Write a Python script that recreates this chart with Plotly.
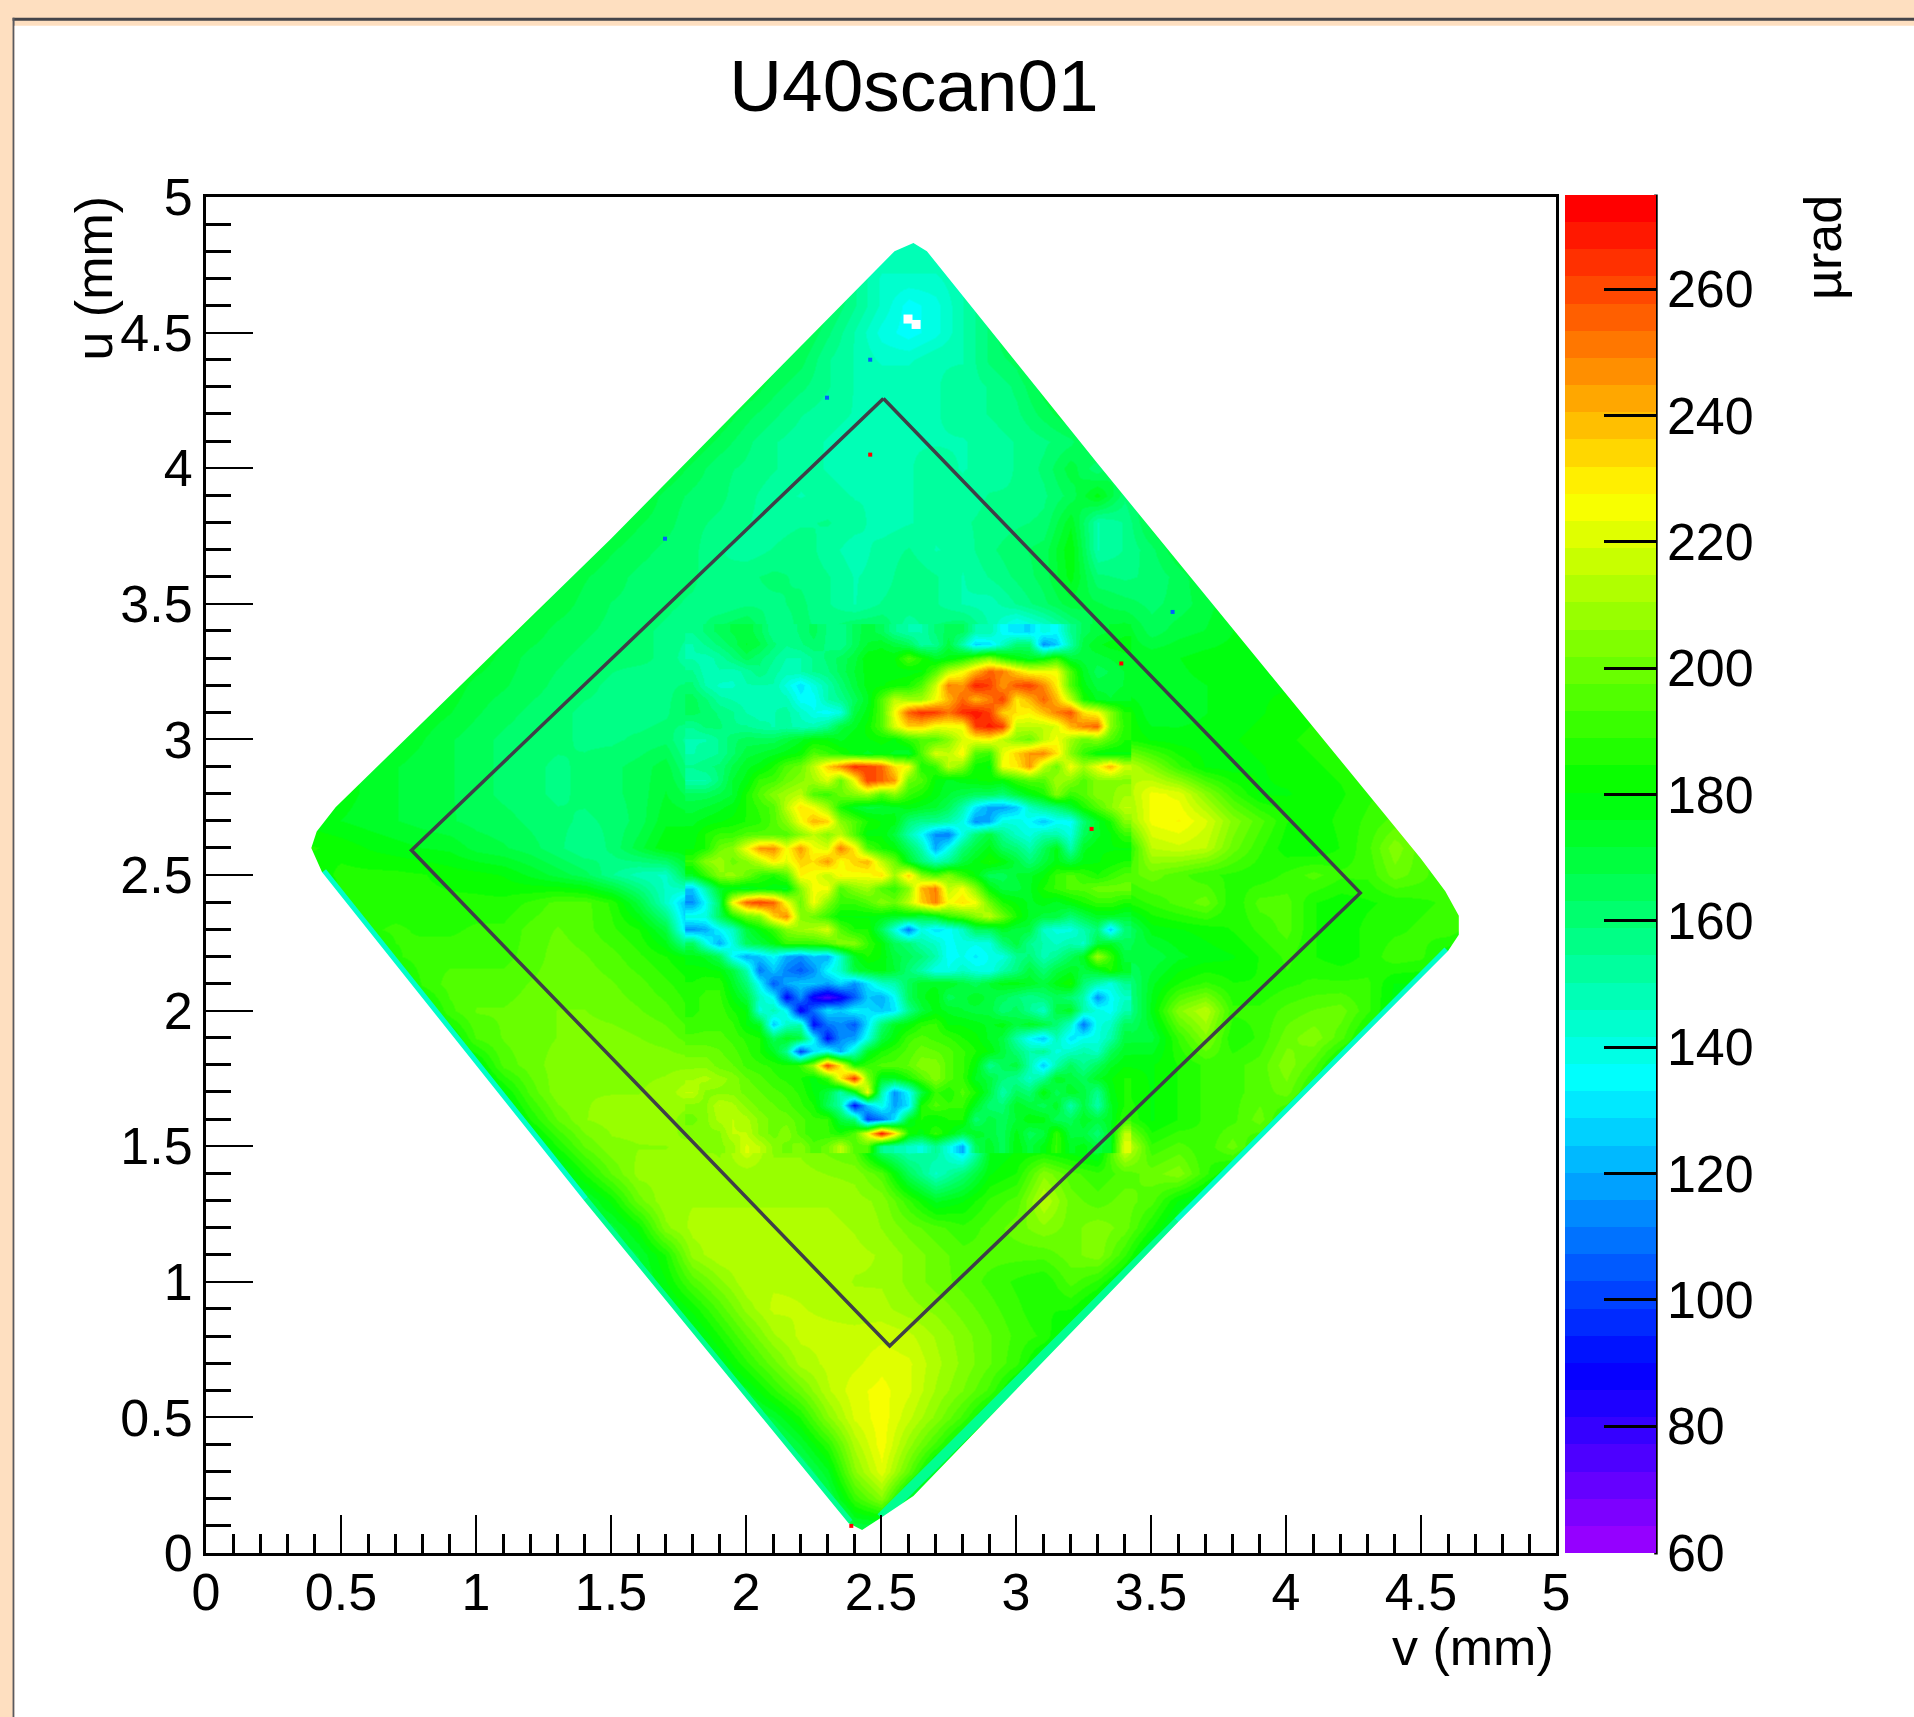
import colorsys
import plotly.graph_objects as go

TITLE = "U40scan01"
X_TITLE = "v (mm)"
Y_TITLE = "u (mm)"
BAR_TITLE = "µrad"
Z_MIN, Z_MAX = 60, 275
BAR_TICKS = [60, 80, 100, 120, 140, 160, 180, 200, 220, 240, 260]

# Coarse map: u of each row, v of first cell (0.1 mm cells), estimated values
row_u = [4.9,4.8,4.7,4.6,4.5,4.4,4.3,4.2,4.1,4.0,3.9,3.8,3.7,3.6,3.5,3.4,3.3,3.2,3.1,3.0,
         2.9,2.8,2.7,2.6,2.5,2.4,2.3,2.2,2.1,2.0,1.9,1.8,1.7,1.6,1.5,1.4,1.3,1.2,1.1,1.0,
         0.9,0.8,0.7,0.6,0.5,0.4,0.3,0.2,0.1,0.0]
row_start = [2.4,2.4,2.3,2.2,2.1,2.0,1.9,1.8,1.7,1.6,1.5,1.4,1.3,1.2,1.1,1.0,0.9,0.8,0.7,0.6,
             0.5,0.4,0.3,0.3,0.3,0.4,0.5,0.6,0.7,0.8,0.9,1.0,1.0,1.1,1.2,1.3,1.4,1.5,1.5,1.6,
             1.7,1.8,1.8,1.9,2.0,2.1,2.2,2.2,2.3,2.3]
row_vals = [
[150,150,150,150,150],
[155,150,150,150,150],
[170,155,145,145,145,150,160],
[175,165,155,145,135,140,150,160,170],
[175,170,160,150,140,135,140,150,160,172],
[178,170,165,155,150,145,145,150,150,160,165,178],
[178,172,165,160,155,150,150,150,150,152,155,160,170,178],
[178,172,165,160,155,152,150,148,150,150,152,155,158,165,172,178],
[178,172,166,160,155,152,150,148,148,150,150,150,152,155,158,162,172,178],
[178,172,166,160,158,155,152,150,148,150,150,152,150,152,155,160,170,160,172,178],
[178,172,166,162,160,156,152,150,152,150,150,150,152,152,155,155,158,165,178,160,170,178],
[178,172,168,165,160,158,155,152,154,155,152,148,150,152,154,156,158,160,175,150,155,170,178],
[178,172,168,165,162,160,155,152,155,158,152,148,152,155,150,152,158,162,165,180,150,155,162,172,178],
[178,172,168,165,162,160,160,155,158,160,158,155,150,152,158,155,150,155,160,165,178,160,158,160,165,172,180],
[178,174,170,166,163,162,160,158,155,158,158,160,155,150,155,158,155,150,148,155,162,170,168,165,162,165,170,175,180],
[178,174,170,166,164,162,160,158,156,156,158,160,158,152,150,155,155,160,155,140,130,135,135,145,160,165,170,172,176,180,182],
[178,175,170,166,164,162,160,160,158,155,158,162,160,158,155,155,158,162,165,175,195,205,205,185,165,172,175,176,178,178,180,182,184],
[178,175,170,168,165,162,160,158,156,158,160,162,160,158,145,140,165,172,175,190,225,262,255,262,240,200,175,172,175,176,178,180,180,182],
[178,175,172,168,165,162,160,158,158,156,158,160,162,158,152,140,135,165,215,265,268,258,270,265,245,258,252,200,172,174,176,178,180,182,184,186],
[178,175,172,168,165,162,160,160,158,158,160,162,165,165,170,175,170,175,190,215,225,215,205,225,240,225,232,215,195,180,178,178,180,182,184,186,188,190],
[178,175,172,170,168,165,162,160,158,160,162,165,170,172,175,180,195,215,240,258,262,220,190,185,190,215,240,230,232,220,205,190,180,178,180,182,184,186,188,190],
[180,178,175,172,170,168,165,162,160,158,160,162,165,172,178,195,205,215,235,215,238,215,195,170,170,165,175,185,195,205,218,225,222,205,190,180,180,182,184,188,190,192],
[180,178,176,174,172,170,168,166,165,162,160,158,160,165,175,185,200,215,205,238,205,205,180,155,145,120,118,125,145,165,190,205,225,228,220,205,195,185,182,186,190,195,195],
[185,185,183,180,178,176,175,170,168,165,160,155,160,170,180,190,215,245,235,215,240,215,195,160,115,140,165,170,175,180,190,200,215,218,215,200,190,182,180,185,192,205,195,190],
[175,182,186,186,186,185,183,182,180,175,170,165,155,148,145,165,195,210,225,215,225,235,225,210,180,170,165,170,195,198,200,205,200,195,190,188,186,190,195,190,190,200,195,188],
[175,185,186,186,186,186,186,186,190,195,195,188,170,145,120,235,262,258,225,205,215,228,245,240,235,205,180,175,175,178,185,190,195,200,185,195,195,185,182,184,186,188,190,190],
[175,188,190,188,188,190,190,195,198,195,190,185,170,150,125,150,195,200,205,190,145,120,135,135,148,165,150,140,145,165,178,180,182,185,190,195,185,182,186,188,190,192,185],
[175,188,192,192,192,192,195,200,198,195,190,185,175,160,125,120,135,160,175,165,155,140,138,140,150,160,165,175,170,168,175,178,180,185,190,185,182,186,192,190,180],
[175,190,195,195,195,198,200,200,198,195,190,188,175,160,105,110,105,130,155,165,150,148,155,160,165,175,180,172,175,185,190,185,185,188,190,190,190,180],
[178,192,198,198,200,202,202,200,198,195,195,190,180,135,88,85,110,145,165,170,170,165,165,160,160,165,165,178,205,215,190,190,195,198,200,190,178],
[178,194,198,200,202,204,204,202,200,198,195,190,165,115,115,100,140,170,180,175,150,140,150,145,160,165,170,190,205,185,190,200,205,195,180],
[178,195,200,204,205,205,205,205,203,200,198,190,185,262,170,165,180,190,180,165,150,155,150,160,170,180,185,190,192,195,205,195,178],
[170,180,195,205,206,206,206,208,206,205,205,200,190,150,262,115,140,175,185,175,165,145,160,165,170,180,185,190,192,195,200,185,170],
[170,185,198,206,208,208,210,210,208,208,205,200,195,115,105,135,190,195,185,170,135,150,165,175,180,185,190,192,200,185,170],
[170,185,198,205,206,206,206,206,206,208,205,205,200,268,170,135,180,190,175,165,170,175,180,190,195,190,200,185,170],
[170,185,198,208,208,208,208,208,208,208,206,205,195,165,145,160,180,185,205,195,190,195,200,205,190,178,165],
[170,182,200,210,210,210,210,210,210,210,208,205,190,175,180,190,195,215,200,195,200,195,180,172,160],
[170,182,205,212,212,212,212,212,212,210,206,200,195,190,195,200,205,200,205,200,185,170,160],
[165,172,185,208,214,214,214,214,214,212,210,205,200,195,195,195,195,200,205,190,170,160],
[170,180,195,205,214,214,214,214,210,210,205,200,196,192,188,185,195,188,175,165],
[172,182,195,208,216,215,214,213,212,208,205,200,195,190,185,185,175,165],
[172,185,198,210,216,216,216,218,216,210,204,198,192,188,175,165],
[165,175,188,200,212,216,218,222,220,212,205,198,190,175,165],
[165,175,188,200,214,222,225,220,210,202,192,175,165],
[165,172,185,205,220,226,216,205,192,175,165],
[160,172,188,212,226,208,192,175,165],
[160,175,205,222,198,172,160],
[150,165,190,205,172,160],
[140,170,170,145],
[150,160,160,150],
]

# Fine map of the central region: 0.05 mm cells, estimated values
fine_v = [1.80,1.85,1.90,1.95,2.00,2.05,2.10,2.15,2.20,2.25,2.30,2.35,2.40,2.45,2.50,2.55,2.60,
          2.65,2.70,2.75,2.80,2.85,2.90,2.95,3.00,3.05,3.10,3.15,3.20,3.25,3.30,3.35,3.40]
fine_u = [3.40,3.35,3.30,3.25,3.20,3.15,3.10,3.05,3.00,2.95,2.90,2.85,2.80,2.75,2.70,2.65,2.60,2.55,2.50,2.45,
          2.40,2.35,2.30,2.25,2.20,2.15,2.10,2.05,2.00,1.95,1.90,1.85,1.80,1.75,1.70,1.65,1.60,1.55,1.50]
fine_z = [
[155,160,165,168,170,165,155,155,160,165,158,155,165,170,165,155,150,150,160,165,165,150,150,135,130,128,140,135,155,165,170,172,175],
[150,155,160,165,172,168,160,155,158,162,158,155,165,172,175,170,165,152,155,170,150,128,130,145,160,160,115,125,150,170,175,178,178],
[150,148,152,158,165,160,155,150,150,155,160,165,170,180,180,180,195,185,175,178,185,195,205,190,180,175,180,190,172,170,170,172,175],
[155,148,150,148,152,158,152,148,150,155,158,165,172,178,180,178,178,180,195,215,225,240,255,250,235,225,225,225,195,175,165,168,172],
[160,150,145,145,150,150,150,140,130,140,150,160,170,178,180,182,185,195,218,250,245,268,262,245,258,262,248,230,195,178,170,170,172],
[165,160,152,150,148,150,150,148,135,135,150,155,165,175,195,215,210,210,225,240,255,240,250,262,230,240,255,240,215,185,175,172,175],
[165,162,158,155,150,148,150,152,145,138,135,140,170,178,195,225,255,265,262,252,265,270,262,235,232,228,238,250,258,232,225,205,185],
[155,160,160,155,155,152,150,152,148,148,155,170,175,182,195,220,235,235,225,225,225,262,268,262,215,215,215,220,240,250,255,205,188],
[150,150,155,162,165,165,165,170,175,180,180,175,180,180,182,180,190,195,195,205,220,225,228,215,205,200,215,225,210,200,205,195,185],
[150,152,155,162,170,172,175,178,182,195,190,185,178,175,178,175,172,195,220,215,228,195,190,222,235,245,248,232,205,190,180,178,180],
[155,158,160,168,175,178,185,195,200,215,235,248,265,262,255,232,225,185,190,215,205,182,180,225,230,245,215,200,225,210,225,240,218],
[150,150,160,172,178,190,192,200,205,210,220,200,225,262,255,245,200,195,180,175,178,180,182,180,190,195,195,210,205,195,205,205,205],
[165,165,168,172,185,195,205,210,215,195,190,200,205,210,195,205,190,185,178,172,168,165,165,160,170,178,185,205,190,195,205,205,210],
[170,172,175,178,185,190,195,215,232,225,210,185,175,170,172,175,178,175,172,165,150,130,118,118,125,145,155,160,172,185,195,205,215],
[175,178,180,182,185,188,195,205,225,240,235,205,195,185,180,178,160,155,155,150,140,115,120,140,140,135,125,135,135,160,175,185,205],
[178,185,190,190,195,195,195,195,205,215,205,215,195,178,180,170,150,135,115,112,140,160,170,155,145,140,150,150,140,165,175,180,190],
[180,185,200,205,225,245,248,225,245,225,220,250,230,195,185,180,165,150,120,138,160,170,178,165,160,150,165,178,150,175,180,180,180],
[190,205,210,200,205,215,230,222,235,232,245,225,235,240,215,200,175,160,148,155,170,178,185,180,170,160,170,178,170,178,180,182,185],
[175,190,205,208,200,190,185,195,228,225,215,228,225,225,232,210,235,205,195,205,190,180,165,165,172,175,180,190,195,190,185,190,195],
[125,150,175,178,175,180,178,175,205,225,225,195,205,210,195,190,205,240,250,215,225,205,180,170,170,175,185,190,195,195,200,200,200],
[115,135,165,225,255,262,255,225,200,225,205,190,190,195,205,200,215,235,250,225,232,225,200,185,180,175,178,175,180,185,190,190,185],
[140,140,165,185,200,205,235,248,205,200,190,180,180,180,178,175,175,170,175,190,195,205,215,200,185,175,170,170,160,168,175,175,172],
[115,120,135,145,170,180,190,205,210,212,220,195,185,185,165,140,110,140,130,135,145,165,165,175,170,170,145,140,140,150,160,125,160],
[165,140,120,140,165,170,178,190,190,190,195,205,205,190,180,165,160,150,145,135,140,138,140,160,170,155,150,145,150,145,170,175,165],
[178,175,165,135,120,125,135,120,115,125,120,145,175,185,180,170,165,160,150,135,138,132,138,140,155,160,148,155,165,175,210,190,170],
[182,182,180,170,150,110,125,112,105,115,135,145,170,175,178,172,160,150,138,138,145,140,138,150,158,170,160,170,175,170,175,185,175],
[185,188,188,175,160,135,105,120,125,125,118,128,115,130,145,150,165,175,175,175,170,165,172,178,178,175,170,178,185,160,150,140,155],
[188,190,190,180,170,145,135,88,115,85,75,85,105,125,120,135,165,175,180,165,170,175,170,165,160,155,160,165,160,150,115,135,145],
[188,190,192,185,180,140,148,135,85,110,130,125,135,130,125,130,155,170,178,175,172,170,170,160,165,155,145,170,175,150,140,135,150],
[190,192,192,190,180,175,125,145,150,90,110,115,105,130,160,175,180,188,190,180,180,178,175,178,170,175,170,160,145,110,140,145,165],
[195,195,195,192,188,185,165,175,170,135,90,115,118,140,170,180,192,195,192,190,185,182,175,170,150,135,125,148,130,138,140,150,170],
[200,200,198,195,190,185,175,155,100,130,140,120,145,175,185,190,195,200,198,195,190,185,180,170,160,150,155,140,145,150,145,165,175],
[205,205,200,198,192,190,188,185,190,210,262,230,185,190,195,195,198,205,205,195,190,180,155,165,170,150,125,150,165,155,165,175,180],
[210,212,208,205,198,195,190,188,185,178,190,230,265,205,175,175,185,195,205,195,190,175,170,160,155,145,155,175,170,165,175,180,185],
[215,205,205,205,200,198,195,192,188,180,170,150,175,225,150,115,135,170,190,185,195,185,170,150,165,160,180,165,175,170,155,178,185],
[205,205,215,212,205,200,198,195,190,185,165,150,90,125,140,118,130,185,195,190,190,175,160,160,175,170,165,175,150,170,150,175,185],
[200,205,212,215,212,205,200,200,195,190,190,170,160,100,110,130,175,185,180,185,185,160,170,165,172,180,178,165,165,175,170,175,190],
[205,205,205,215,215,205,200,205,195,190,190,185,195,225,270,235,185,178,190,180,170,175,170,165,178,165,170,190,170,170,160,175,215],
[208,205,205,208,220,215,205,200,205,195,200,215,195,195,155,150,145,140,155,140,120,165,175,165,180,170,178,190,175,178,170,175,222],
]

# Outline of the scanned area, read clockwise from the top tip
edge_v = [2.62,2.67,3.30,3.95,4.50,4.59,4.64,4.64,4.60,3.60,2.62,2.50,2.43,2.38,1.40,0.43,0.39,0.41,0.48,1.50,2.55,2.62]
edge_u = [4.83,4.80,4.02,3.23,2.56,2.44,2.35,2.28,2.22,1.22,0.21,0.13,0.085,0.11,1.30,2.51,2.60,2.66,2.75,3.74,4.80,4.83]
# Thin rim of lower values along the lower edges
rim_cyan_v = [0.43,1.40,None,4.60,3.60]
rim_cyan_u = [2.51,1.30,None,2.22,1.22]
rim_teal_v = [1.40,2.38,None,3.60,2.50]
rim_teal_u = [1.30,0.11,None,1.22,0.13]
# The dark diamond marking the fiducial region
box_v = [2.509, 4.275, 2.532, 0.761, 2.509]
box_u = [4.257, 2.434, 0.763, 2.591, 4.257]
# Isolated outlier cells
spot_v = [2.46, 3.39, 3.28, 2.39]
spot_u = [4.05, 3.28, 2.67, 0.10]
blue_v = [2.46, 3.58, 1.70, 2.30]
blue_u = [4.40, 3.47, 3.74, 4.26]
hole_v = [2.60, 2.63]
hole_u = [4.55, 4.53]

v_axis = [round(0.1 + 0.1 * i, 1) for i in range(49)]
u_axis = sorted(row_u)
z_by_u = {}
for u, start, vals in zip(row_u, row_start, row_vals):
    row = [None] * len(v_axis)
    first = round((start - 0.1) * 10)
    for i, val in enumerate(vals):
        row[first + i] = val
    # one more cell either side, hidden by the mask, so the edge is always covered
    for i in (first - 1, first - 2):
        if i >= 0:
            row[i] = vals[0]
    for i in (first + len(vals), first + len(vals) + 1):
        if i < len(row):
            row[i] = vals[-1]
    z_by_u[u] = row
# Where both maps read the same spot the finer reading wins, so the maps join up
for u, fine_row in zip(fine_u, fine_z):
    if u in z_by_u:
        for v, val in zip(fine_v, fine_row):
            if v in v_axis:
                z_by_u[u][v_axis.index(v)] = val
z = [z_by_u[u] for u in u_axis]

# ROOT rainbow palette, 50 flat bands from violet to red
n_bands = 50
colorscale = []
for i in range(n_bands):
    hue = (275 * (1 - i / (n_bands - 1))) / 360
    r, g, b = colorsys.hsv_to_rgb(hue, 1, 1)
    col = f"rgb({round(r*255)},{round(g*255)},{round(b*255)})"
    colorscale.append([i / n_bands, col])
    colorscale.append([(i + 1) / n_bands, col])

L, R, T, B = 205.5, 1556.0, 196.5, 1553.5
def px(x): return (x - L) / (R - L)
def py(y): return (B - y) / (B - T)

FONT = "Liberation Sans"
fig = go.Figure()
fig.add_trace(go.Heatmap(
    x=v_axis, y=u_axis, z=z, zmin=Z_MIN, zmax=Z_MAX, zsmooth="best",
    colorscale=colorscale, hoverongaps=False,
    colorbar=dict(
        x=px(1565), xanchor="left", xpad=0, y=py(1553), yanchor="bottom", ypad=0,
        len=(1553 - 194) / (B - T), lenmode="fraction", thickness=91, thicknessmode="pixels",
        outlinewidth=0, tickmode="array", tickvals=BAR_TICKS,
        ticks="inside", ticklen=52, tickwidth=3, tickcolor="black",
        tickfont=dict(family=FONT, size=52, color="black"),
    ),
))
fig.add_trace(go.Heatmap(
    x=fine_v, y=fine_u, z=fine_z, zmin=Z_MIN, zmax=Z_MAX, zsmooth="best",
    colorscale=colorscale, showscale=False,
))
fig.add_trace(go.Scatter(x=rim_cyan_v, y=rim_cyan_u, mode="lines",
                         line=dict(color="#00FFC8", width=10), hoverinfo="skip", showlegend=False))
fig.add_trace(go.Scatter(x=rim_teal_v, y=rim_teal_u, mode="lines",
                         line=dict(color="#00FF90", width=10), hoverinfo="skip", showlegend=False))
# White mask outside the outline (outer box anti-clockwise, outline clockwise)
fig.add_trace(go.Scatter(
    x=[0, 5, 5, 0, 0, None] + edge_v, y=[0, 0, 5, 5, 0, None] + edge_u,
    mode="lines", line=dict(width=0), fill="toself", fillcolor="white",
    hoverinfo="skip", showlegend=False,
))
fig.add_trace(go.Scatter(x=hole_v, y=hole_u, mode="markers",
                         marker=dict(symbol="square", color="white", size=9),
                         hoverinfo="skip", showlegend=False))
fig.add_trace(go.Scatter(x=spot_v, y=spot_u, mode="markers",
                         marker=dict(symbol="square", color="red", size=4),
                         hoverinfo="skip", showlegend=False))
fig.add_trace(go.Scatter(x=blue_v, y=blue_u, mode="markers",
                         marker=dict(symbol="square", color="#0060FF", size=4),
                         hoverinfo="skip", showlegend=False))
fig.add_trace(go.Scatter(
    x=box_v, y=box_u, mode="lines", line=dict(color="#3f3f48", width=3.5),
    hoverinfo="skip", showlegend=False,
))

axis_common = dict(
    range=[0, 5], dtick=0.5, tick0=0, ticks="inside", tickwidth=2, tickcolor="black",
    showline=True, linecolor="black", linewidth=3, mirror=True,
    showgrid=False, zeroline=False,
    tickfont=dict(family=FONT, size=52, color="black"),
)
fig.update_xaxes(**axis_common, ticklen=38, ticklabelstandoff=-8,
                 minor=dict(dtick=0.1, tick0=0, ticks="inside", ticklen=19, tickwidth=3, tickcolor="black"))
fig.update_yaxes(**axis_common, ticklen=47,
                 minor=dict(dtick=0.1, tick0=0, ticks="inside", ticklen=25, tickwidth=3, tickcolor="black"))

shapes = [
    dict(type="rect", xref="paper", yref="paper", layer="below", x0=px(12), x1=px(1930), y0=py(17), y1=py(20),
         fillcolor="#45454a", line_width=0),
    dict(type="rect", xref="paper", yref="paper", layer="below", x0=px(12), x1=px(14), y0=py(17), y1=py(1730),
         fillcolor="#5a5a60", line_width=0),
    dict(type="rect", xref="paper", yref="paper", layer="below", x0=px(14), x1=px(1930), y0=py(25), y1=py(1730),
         fillcolor="white", line_width=0),
    dict(type="line", xref="paper", yref="paper", layer="above", x0=px(1656), x1=px(1656), y0=py(1555), y1=py(194),
         line=dict(color="black", width=3.5)),
]
annots = [
    dict(text=X_TITLE, xref="paper", yref="paper", x=1, y=py(1648), xanchor="right", yanchor="middle",
         showarrow=False, font=dict(family=FONT, size=52, color="black")),
    dict(text=Y_TITLE, xref="paper", yref="paper", x=px(93), y=py(193), xanchor="center", yanchor="top", textangle=-90,
         showarrow=False, font=dict(family=FONT, size=52, color="black")),
    dict(text=BAR_TITLE, xref="paper", yref="paper", x=px(1823), y=py(192), xanchor="center", yanchor="top", textangle=-90,
         showarrow=False, font=dict(family=FONT, size=52, color="black")),
]
fig.update_layout(
    width=1914, height=1717, autosize=False,
    margin=dict(l=L, r=1914 - R, t=T, b=1717 - B, pad=0),
    paper_bgcolor="#FEDFC0", plot_bgcolor="white",
    title=dict(text=TITLE, x=914 / 1914, xref="container", xanchor="center",
               y=1 - 85 / 1717, yref="container", yanchor="middle",
               font=dict(family=FONT, size=73, color="black")),
    shapes=shapes, annotations=annots, showlegend=False,
)
fig.write_html(
    "out.html", config=dict(displayModeBar=False),
    post_script="document.body.style.margin='0';document.documentElement.style.overflow='hidden';"
                "document.body.style.background='#FEDFC0';",
)
